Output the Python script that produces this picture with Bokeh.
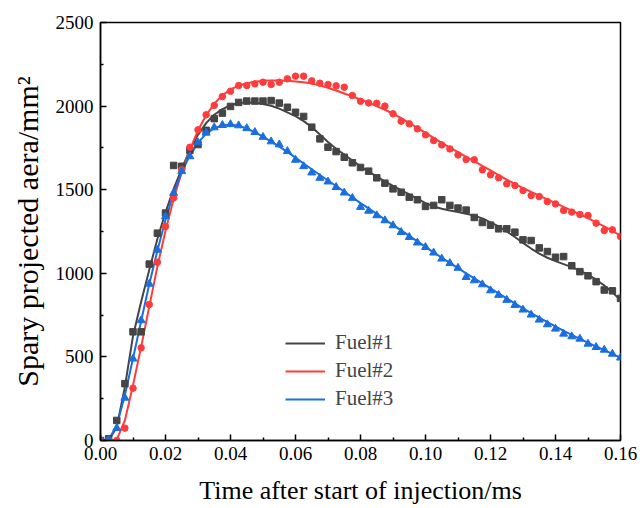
from bokeh.plotting import figure
from bokeh.models import Range1d, Legend, LegendItem, NumeralTickFormatter, FixedTicker
from bokeh.embed import file_html
from bokeh.resources import INLINE

# time samples (ms)
time_ms = [0.0, 0.0025, 0.005, 0.0075, 0.01, 0.0125, 0.015, 0.0175, 0.02, 0.0225,
           0.025, 0.0275, 0.03, 0.0325, 0.035, 0.0375, 0.04, 0.0425, 0.045, 0.0475,
           0.05, 0.0525, 0.055, 0.0575, 0.06, 0.0625, 0.065, 0.0675, 0.07, 0.0725,
           0.075, 0.0775, 0.08, 0.0825, 0.085, 0.0875, 0.09, 0.0925, 0.095, 0.0975,
           0.1, 0.1025, 0.105, 0.1075, 0.11, 0.1125, 0.115, 0.1175, 0.12, 0.1225,
           0.125, 0.1275, 0.13, 0.1325, 0.135, 0.1375, 0.14, 0.1425, 0.145, 0.1475,
           0.15, 0.1525, 0.155, 0.1575, 0.16]

# measured points
fuel1_pts = [0, 10, 120, 340, 650, 650, 1055, 1240, 1360, 1645,
             1640, 1735, 1770, 1855, 1925, 1958, 1998, 2022, 2030, 2030,
             2030, 2033, 2018, 1993, 1963, 1938, 1874, 1804, 1754, 1728,
             1694, 1661, 1633, 1611, 1571, 1539, 1505, 1485, 1455, 1440,
             1400, 1406, 1440, 1406, 1390, 1378, 1334, 1304, 1288, 1266,
             1266, 1246, 1200, 1196, 1152, 1130, 1096, 1100, 1045, 1010,
             985, 950, 900, 895, 850]
fuel2_pts = [0, 0, 0, 74, 313, 554, 813, 1066, 1280, 1451,
             1619, 1754, 1858, 1948, 2004, 2057, 2089, 2123, 2123, 2133,
             2143, 2129, 2143, 2163, 2179, 2179, 2151, 2137, 2129, 2121,
             2113, 2063, 2029, 2019, 2017, 2000, 1954, 1910, 1894, 1864,
             1828, 1794, 1768, 1744, 1708, 1681, 1679, 1619, 1589, 1571,
             1535, 1525, 1495, 1465, 1459, 1429, 1415, 1376, 1366, 1352,
             1346, 1300, 1256, 1260, 1220]
fuel3_pts = [0, 6, 74, 255, 489, 718, 937, 1140, 1340, 1480,
             1610, 1699, 1782, 1840, 1872, 1886, 1891, 1884, 1867, 1844,
             1815, 1788, 1770, 1730, 1678, 1640, 1602, 1570, 1548, 1515,
             1482, 1450, 1396, 1373, 1346, 1316, 1286, 1246, 1216, 1183,
             1156, 1123, 1087, 1060, 1032, 977, 957, 933, 897, 870,
             840, 810, 782, 752, 722, 694, 668, 638, 622, 608,
             578, 558, 542, 518, 495]

# fitted curves
fuel1_fit = [0, 0, 80, 320, 625, 830, 1020, 1205, 1365, 1505,
             1625, 1740, 1828, 1898, 1948, 1982, 2005, 2018, 2022, 2020,
             2013, 2002, 1985, 1963, 1940, 1910, 1875, 1830, 1785, 1745,
             1710, 1675, 1640, 1608, 1578, 1550, 1523, 1497, 1472, 1447,
             1420, 1400, 1386, 1375, 1366, 1356, 1345, 1328, 1305, 1280,
             1250, 1217, 1182, 1148, 1118, 1093, 1073, 1055, 1037, 1016,
             992, 962, 927, 886, 840]
fuel2_fit = [0, 0, 5, 120, 330, 560, 800, 1040, 1255, 1445,
             1605, 1740, 1855, 1945, 2015, 2065, 2100, 2122, 2137, 2146,
             2151, 2153, 2153, 2151, 2147, 2142, 2135, 2124, 2110, 2093,
             2075, 2058, 2040, 2020, 2000, 1978, 1955, 1928, 1900, 1870,
             1840, 1810, 1780, 1752, 1725, 1697, 1670, 1642, 1615, 1587,
             1560, 1535, 1510, 1487, 1465, 1442, 1420, 1397, 1375, 1352,
             1330, 1305, 1280, 1253, 1225]
fuel3_fit = [0, 5, 90, 270, 490, 715, 935, 1135, 1320, 1480,
             1605, 1705, 1780, 1835, 1868, 1885, 1890, 1883, 1866, 1843,
             1817, 1788, 1758, 1726, 1692, 1657, 1622, 1588, 1555, 1522,
             1488, 1455, 1420, 1388, 1355, 1322, 1290, 1257, 1224, 1191,
             1158, 1125, 1093, 1062, 1031, 1000, 970, 940, 910, 880,
             850, 820, 790, 762, 735, 708, 682, 656, 632, 608,
             585, 562, 540, 518, 496]

x_ticks = [0.0, 0.02, 0.04, 0.06, 0.08, 0.10, 0.12, 0.14, 0.16]
x_minor = [0.01, 0.03, 0.05, 0.07, 0.09, 0.11, 0.13, 0.15]
y_ticks = [0, 500, 1000, 1500, 2000, 2500]
y_minor = [250, 750, 1250, 1750, 2250]
labels = ["Fuel#1", "Fuel#2", "Fuel#3"]

FONT = "Liberation Serif"
c1, c2, c3 = "#454545", "#ff3b3b", "#1a6fdf"

p = figure(width=640, height=508, output_backend="svg", toolbar_location=None,
           x_range=Range1d(0, 0.16), y_range=Range1d(0, 2500),
           min_border_left=100, min_border_right=20, min_border_top=22, min_border_bottom=68)

p.xgrid.visible = False
p.ygrid.visible = False
p.outline_line_color = "black"
p.outline_line_width = 1.5
p.background_fill_color = "white"
p.border_fill_color = "white"

r1 = p.line(time_ms, fuel1_fit, line_color=c1, line_width=2)
r2 = p.line(time_ms, fuel2_fit, line_color=c2, line_width=2)
r3 = p.line(time_ms, fuel3_fit, line_color=c3, line_width=2)
p.scatter(time_ms, fuel1_pts, marker="square", size=6.5, color=c1)
p.scatter(time_ms, fuel2_pts, marker="circle", size=6.5, color=c2)
p.scatter(time_ms, fuel3_pts, marker="triangle", size=8, color=c3)

for ax in (p.xaxis[0], p.yaxis[0]):
    ax.axis_line_width = 1.5
    ax.major_tick_in = 6
    ax.major_tick_out = 0
    ax.minor_tick_in = 3
    ax.minor_tick_out = 0
    ax.major_tick_line_width = 1.5
    ax.minor_tick_line_width = 1.5
    ax.major_label_text_font = FONT
    ax.major_label_text_font_size = "19px"
    ax.major_label_text_color = "black"
    ax.axis_label_text_font = FONT
    ax.axis_label_text_font_style = "normal"
    ax.axis_label_text_color = "black"

p.xaxis.axis_label_text_font_size = "26px"
p.yaxis.axis_label_text_font_size = "30px"
p.xaxis.ticker = FixedTicker(ticks=x_ticks, minor_ticks=x_minor)
p.yaxis.ticker = FixedTicker(ticks=y_ticks, minor_ticks=y_minor)
p.xaxis.formatter = NumeralTickFormatter(format="0.00")
p.xaxis.major_label_standoff = 6
p.yaxis.major_label_standoff = 7
p.xaxis.axis_label = "Time after start of injection/ms"
p.yaxis.axis_label = "Spary projected aera/mm\u00b2"
p.xaxis.axis_label_standoff = 13
p.yaxis.axis_label_standoff = 9

legend = Legend(items=[LegendItem(label=labels[0], renderers=[r1]),
                       LegendItem(label=labels[1], renderers=[r2]),
                       LegendItem(label=labels[2], renderers=[r3])],
                location=(180, 24))
legend.border_line_alpha = 0
legend.background_fill_alpha = 0
legend.label_text_font = FONT
legend.label_text_font_size = "21px"
legend.glyph_width = 40
legend.glyph_height = 20
legend.label_height = 20
legend.spacing = 3
legend.padding = 5
legend.label_standoff = 10
p.add_layout(legend)

open("out.html", "w").write(file_html(p, INLINE))
